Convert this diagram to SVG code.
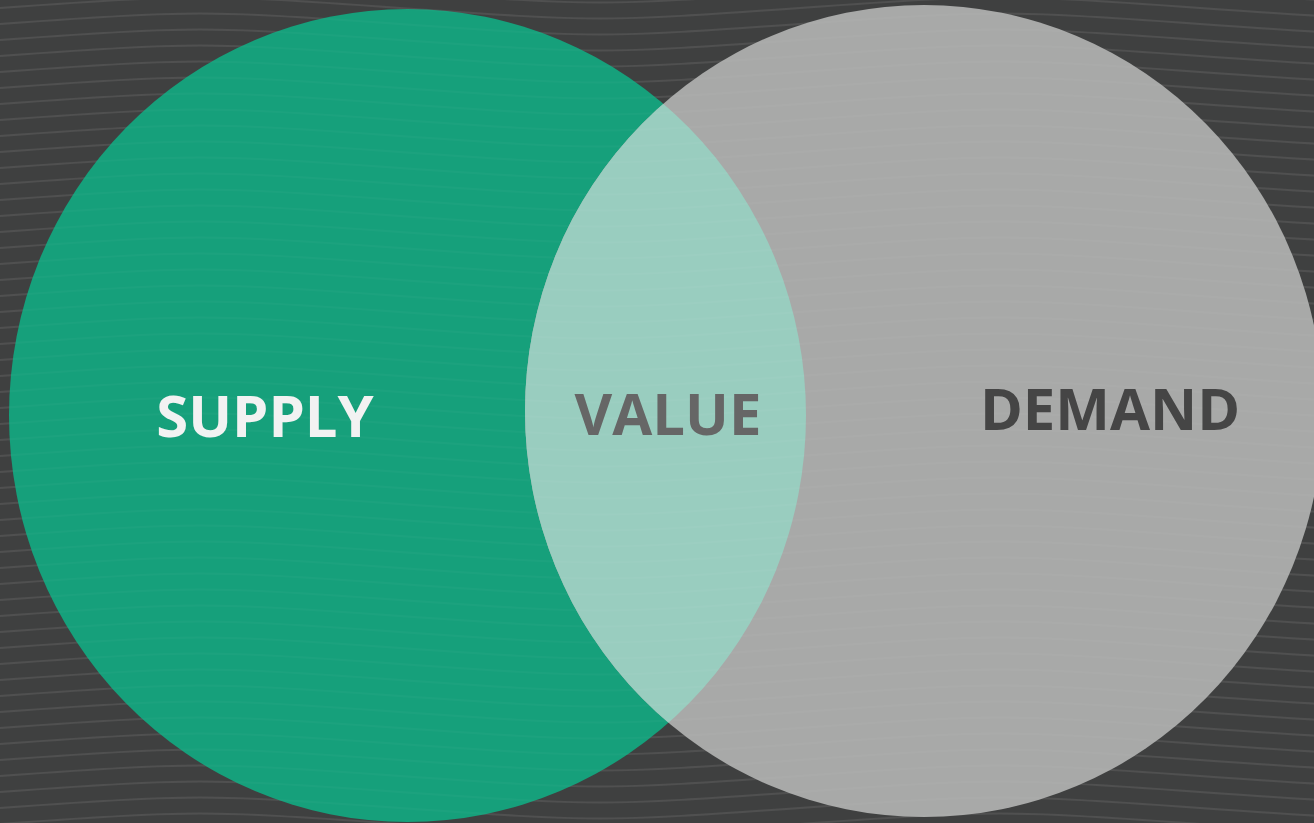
<svg xmlns="http://www.w3.org/2000/svg" width="1314" height="823" viewBox="0 0 1314 823">
  <defs>
    <pattern id="waves" width="800" height="16" patternUnits="userSpaceOnUse">
      <path d="M0 8 C200 -6 200 -6 400 8 S600 22 800 8" fill="none" stroke="#ffffff" stroke-width="2"/>
      <path d="M0 24 C200 10 200 10 400 24 S600 38 800 24" fill="none" stroke="#ffffff" stroke-width="2"/>
      <path d="M0 -8 C200 -22 200 -22 400 -8 S600 6 800 -8" fill="none" stroke="#ffffff" stroke-width="2"/>
    </pattern>
    <clipPath id="clipSupply"><ellipse cx="407.5" cy="415.5" rx="398.5" ry="406.5"/></clipPath>
  </defs>
  <style>
    .lbl { font-family: "Open Sans", "DejaVu Sans", sans-serif; font-weight: 700; font-size: 58px; text-anchor: middle; }
  </style>
  <rect width="1314" height="823" fill="#3f4040"/>
  <rect width="1314" height="823" fill="url(#waves)" opacity="0.06"/>
  <g id="supply">
    <ellipse cx="407.5" cy="415.5" rx="398.5" ry="406.5" fill="#16a07b"/>
  </g>
  <g id="demand">
    <ellipse cx="924" cy="411" rx="399" ry="406" fill="#a8a9a8"/>
  </g>
  <g id="value">
    <ellipse cx="924" cy="411" rx="399" ry="406" fill="#99cdbf" clip-path="url(#clipSupply)"/>
  </g>
  <rect width="1314" height="823" fill="url(#waves)" opacity="0.025"/>
  <g id="labels">
    <text class="lbl" x="265" y="437" fill="#f2f2f2">SUPPLY</text>
    <text class="lbl" x="668" y="435" fill="#666666">VALUE</text>
    <text class="lbl" x="1110" y="430" fill="#454545">DEMAND</text>
  </g>
  <g id="connectors"></g>
</svg>
